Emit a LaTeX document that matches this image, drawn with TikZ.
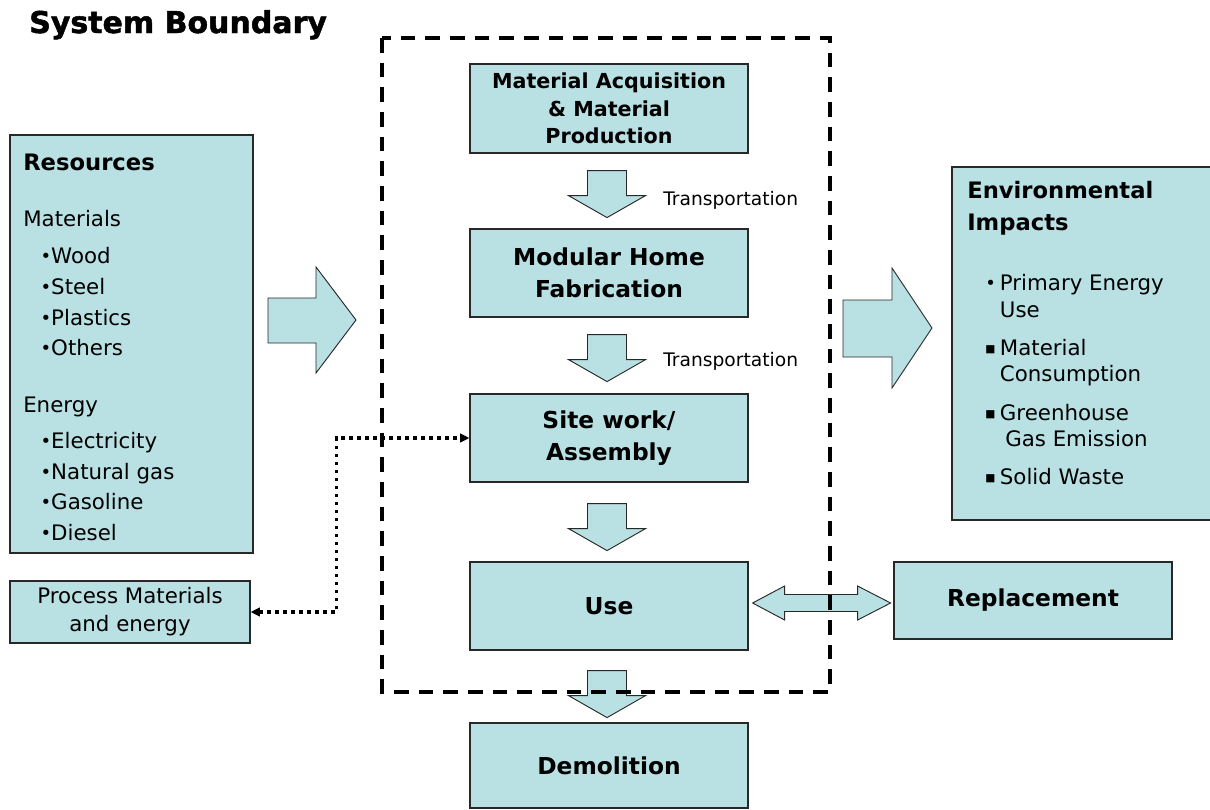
\documentclass[tikz,border=0pt]{standalone}
\usepackage{fontspec}
\setmainfont{DejaVu Sans}
\newfontfamily\titlefont{DejaVu Sans}[BoldFeatures={FakeBold=1.6}]
\usetikzlibrary{arrows.meta,positioning,calc}
\definecolor{lcafill}{RGB}{185,224,227}
\definecolor{lcaedge}{RGB}{40,40,40}
\newcommand\smalldot{\raisebox{0.8pt}{\fontsize{13.5}{13.5}\selectfont•}}
\newcommand\smallsq{\raisebox{2.2pt}{\fontsize{8}{8}\selectfont■}}
\newcommand\resitem{\hspace*{13pt}\smalldot}
\newcommand\envitem[1]{\makebox[11pt][l]{#1}}
\tikzset{
  stage/.style={draw=lcaedge,fill=lcafill,line width=0.9pt,align=center,inner sep=0pt,
    font=\bfseries\fontsize{17.5}{24}\selectfont,minimum width=208.5pt,minimum height=66pt},
  panel/.style={draw=lcaedge,fill=lcafill,line width=0.9pt,inner sep=0pt},
  blockarr/.style={draw=lcaedge,fill=lcafill,line width=0.7pt,line join=miter},
  plaintext/.style={inner sep=0pt,align=left,font=\fontsize{16}{23}\selectfont},
}

\begin{document}
\begin{tikzpicture}[x=0.75pt,y=-0.75pt]
\useasboundingbox (0,0) rectangle (1210,810);

\node[font=\titlefont\bfseries\fontsize{22.5}{26}\selectfont,anchor=base west,inner sep=0pt] (title) at (29,33) {System Boundary};

% life cycle stages
\node[stage,font=\bfseries\fontsize{15.5}{20.6}\selectfont,minimum height=66.75pt] (mat) at (609,108.5) {Material Acquisition\\\& Material\\Production};
\node[stage] (mod) at (609,273) {Modular Home\\Fabrication};
\node[stage] (site) at (609,438) {Site work/\\Assembly};
\node[stage] (use) at (609,606) {Use};
\node[stage,minimum height=63.75pt] (dem) at (609,765.5) {Demolition};

\node[font=\fontsize{14}{16}\selectfont,anchor=base west,inner sep=0pt] (tr1) at (663,205) {Transportation};
\node[font=\fontsize{14}{16}\selectfont,anchor=base west,inner sep=0pt] (tr2) at (663,366) {Transportation};

% inputs
\node[panel,minimum width=182.25pt,minimum height=313.5pt] (res) at (131.5,344) {};
\node[font=\bfseries\fontsize{17}{20}\selectfont,anchor=west,inner sep=0pt] (reshead) at (23,162) {Resources};
\node[plaintext,anchor=north west] (reslist) at (23,210) {Materials\\[5pt]
  \resitem Wood\\ \resitem Steel\\ \resitem Plastics\\ \resitem Others\\[19.5pt]
  Energy\\[4pt]
  \resitem Electricity\\ \resitem Natural gas\\ \resitem Gasoline\\ \resitem Diesel};

\node[stage,font=\fontsize{16}{21}\selectfont,minimum width=180pt,minimum height=46.5pt] (proc) at (130,612) {Process Materials\\and energy};

% outputs
\node[panel,minimum width=197.25pt,minimum height=264.75pt] (env) at (1083.5,343.5) {};
\node[font=\bfseries\fontsize{17}{24}\selectfont,align=left,anchor=north west,inner sep=0pt] (envhead) at (967,181) {Environmental\\Impacts};
\node[plaintext,font=\fontsize{16}{20}\selectfont,anchor=north west] (envlist) at (985,274) {\envitem{\smalldot}Primary Energy\\ \envitem{}Use\\[8.6pt]
  \envitem{\smallsq}Material\\ \envitem{}Consumption\\[8.6pt]
  \envitem{\smallsq}Greenhouse\\ \envitem{}\hspace*{4pt}Gas Emission\\[8.6pt]
  \envitem{\smallsq}Solid Waste};

\node[stage,minimum height=57.75pt] (repl) at (1033,600.5) {Replacement};

% block arrows
\foreach \a/\d in {mat/17,mod/17,site/21,use/20}
  \draw[blockarr,shift={($(\a.south)+(-2,\d)$)}] (-19.5,0) -- (19.5,0) -- (19.5,25) -- (38.5,25)
    -- (0,47) -- (-38.5,25) -- (-19.5,25) -- cycle;
\draw[blockarr] (268,298) -- (316,298) -- (316,267) -- (356,320) -- (316,373) -- (316,343) -- (268,343) -- cycle;
\draw[blockarr] (843,300) -- (892,300) -- (892,268) -- (932,328) -- (892,388) -- (892,357) -- (843,357) -- cycle;
\coordinate (dl) at ($(use.east)+(4,-3)$);
\draw[blockarr,shift={(dl)}] (0,0) -- (32,-17) -- (32,-8.5) -- (105,-8.5) -- (105,-17) -- (138,0)
  -- (105,17) -- (105,8.5) -- (32,8.5) -- (32,17) -- cycle;

% process materials loop
\draw[line width=2.6pt,dash pattern=on 2.6pt off 3.4pt,{Triangle[length=7pt,width=6.5pt]}-{Triangle[length=7pt,width=6.5pt]}]
  (proc.east) -- ++(86,0) |- (site.west);

% system boundary
\draw[line width=2.8pt,dash pattern=on 11pt off 7.5pt] (382,38) rectangle (830,692);
\end{tikzpicture}
\end{document}
